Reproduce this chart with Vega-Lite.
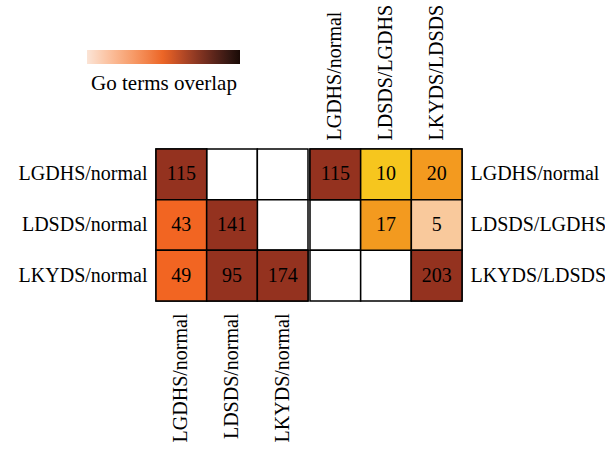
{
  "$schema": "https://vega.github.io/schema/vega-lite/v6.json",
  "padding": {"left": 9, "top": 4, "right": 0, "bottom": 0},
  "autosize": {"type": "pad"},
  "spacing": 0,
  "config": {
    "view": {"stroke": null},
    "font": "Liberation Serif",
    "axis": {"labelFont": "Liberation Serif", "labelFontSize": 20, "labelColor": "black", "ticks": false, "domain": false, "grid": false, "title": null, "labelLimit": 300},
    "legend": {"titleFont": "Liberation Serif", "titleFontSize": 21, "titleFontWeight": "normal", "titleColor": "black"}
  },
  "datasets": {
    "left": [
      {"row": "LGDHS/normal", "col": "LGDHS/normal", "value": 115},
      {"row": "LGDHS/normal", "col": "LDSDS/normal", "value": null},
      {"row": "LGDHS/normal", "col": "LKYDS/normal", "value": null},
      {"row": "LDSDS/normal", "col": "LGDHS/normal", "value": 43},
      {"row": "LDSDS/normal", "col": "LDSDS/normal", "value": 141},
      {"row": "LDSDS/normal", "col": "LKYDS/normal", "value": null},
      {"row": "LKYDS/normal", "col": "LGDHS/normal", "value": 49},
      {"row": "LKYDS/normal", "col": "LDSDS/normal", "value": 95},
      {"row": "LKYDS/normal", "col": "LKYDS/normal", "value": 174}
    ],
    "right": [
      {"row": "LGDHS/normal", "col": "LGDHS/normal", "value": 115},
      {"row": "LGDHS/normal", "col": "LDSDS/LGDHS", "value": 10},
      {"row": "LGDHS/normal", "col": "LKYDS/LDSDS", "value": 20},
      {"row": "LDSDS/LGDHS", "col": "LGDHS/normal", "value": null},
      {"row": "LDSDS/LGDHS", "col": "LDSDS/LGDHS", "value": 17},
      {"row": "LDSDS/LGDHS", "col": "LKYDS/LDSDS", "value": 5},
      {"row": "LKYDS/LDSDS", "col": "LGDHS/normal", "value": null},
      {"row": "LKYDS/LDSDS", "col": "LDSDS/LGDHS", "value": null},
      {"row": "LKYDS/LDSDS", "col": "LKYDS/LDSDS", "value": 203}
    ]
  },
  "hconcat": [
    {
      "width": 152,
      "height": 152,
      "data": {"name": "left"},
      "encoding": {
        "x": {"field": "col", "type": "nominal", "sort": ["LGDHS/normal", "LDSDS/normal", "LKYDS/normal"],
              "axis": {"orient": "bottom", "labelAngle": 270, "labelPadding": 12}},
        "y": {"field": "row", "type": "nominal", "sort": ["LGDHS/normal", "LDSDS/normal", "LKYDS/normal"],
              "axis": {"orient": "left", "labelPadding": 9, "minExtent": 147, "maxExtent": 147}}
      },
      "layer": [
        {
          "transform": [{"filter": "datum.value != null"}],
          "mark": {"type": "rect", "fillOpacity": 0, "strokeWidth": 0},
          "encoding": {
            "stroke": {"field": "value", "type": "quantitative",
                       "scale": {"domain": [0, 203], "range": ["#fbe4d6", "#ec6424", "#1a0905"]},
                       "legend": {"orient": "none", "legendX": -69, "legendY": -99, "direction": "horizontal",
                                  "gradientLength": 153, "gradientThickness": 14, "gradientStrokeWidth": 0,
                                  "labelOpacity": 0, "labelFontSize": 1, "title": "Go terms overlap",
                                  "titleOrient": "bottom", "titleAnchor": "middle", "titlePadding": 6}}
          }
        },
        {"mark": {"type": "rect", "fill": "white", "stroke": "black", "strokeWidth": 1.5}},
        {
          "transform": [{"filter": "datum.value != null"}],
          "mark": {"type": "rect", "stroke": "black", "strokeWidth": 1.5},
          "encoding": {
            "fill": {"field": "value", "type": "quantitative",
                     "scale": {"type": "threshold", "domain": [7, 15, 30, 60], "range": ["#f9c99c", "#f6c61e", "#f39a1f", "#f26522", "#94321f"]},
                     "legend": null}
          }
        },
        {
          "transform": [{"filter": "datum.value != null"}],
          "mark": {"type": "text", "font": "Liberation Serif", "fontSize": 20, "color": "black"},
          "encoding": {"text": {"field": "value", "type": "quantitative"}}
        }
      ]
    },
    {
      "width": 152,
      "height": 152,
      "data": {"name": "right"},
      "encoding": {
        "x": {"field": "col", "type": "nominal", "sort": ["LGDHS/normal", "LDSDS/LGDHS", "LKYDS/LDSDS"],
              "axis": {"orient": "top", "labelAngle": 270, "labelPadding": 9}},
        "y": {"field": "row", "type": "nominal", "sort": ["LGDHS/normal", "LDSDS/LGDHS", "LKYDS/LDSDS"],
              "axis": {"orient": "right", "labelPadding": 8}}
      },
      "layer": [
        {"mark": {"type": "rect", "fill": "white", "stroke": "black", "strokeWidth": 1.5}},
        {
          "transform": [{"filter": "datum.value != null"}],
          "mark": {"type": "rect", "stroke": "black", "strokeWidth": 1.5},
          "encoding": {
            "fill": {"field": "value", "type": "quantitative",
                     "scale": {"type": "threshold", "domain": [7, 15, 30, 60], "range": ["#f9c99c", "#f6c61e", "#f39a1f", "#f26522", "#94321f"]},
                     "legend": null}
          }
        },
        {
          "transform": [{"filter": "datum.value != null"}],
          "mark": {"type": "text", "font": "Liberation Serif", "fontSize": 20, "color": "black"},
          "encoding": {"text": {"field": "value", "type": "quantitative"}}
        }
      ]
    }
  ]
}
